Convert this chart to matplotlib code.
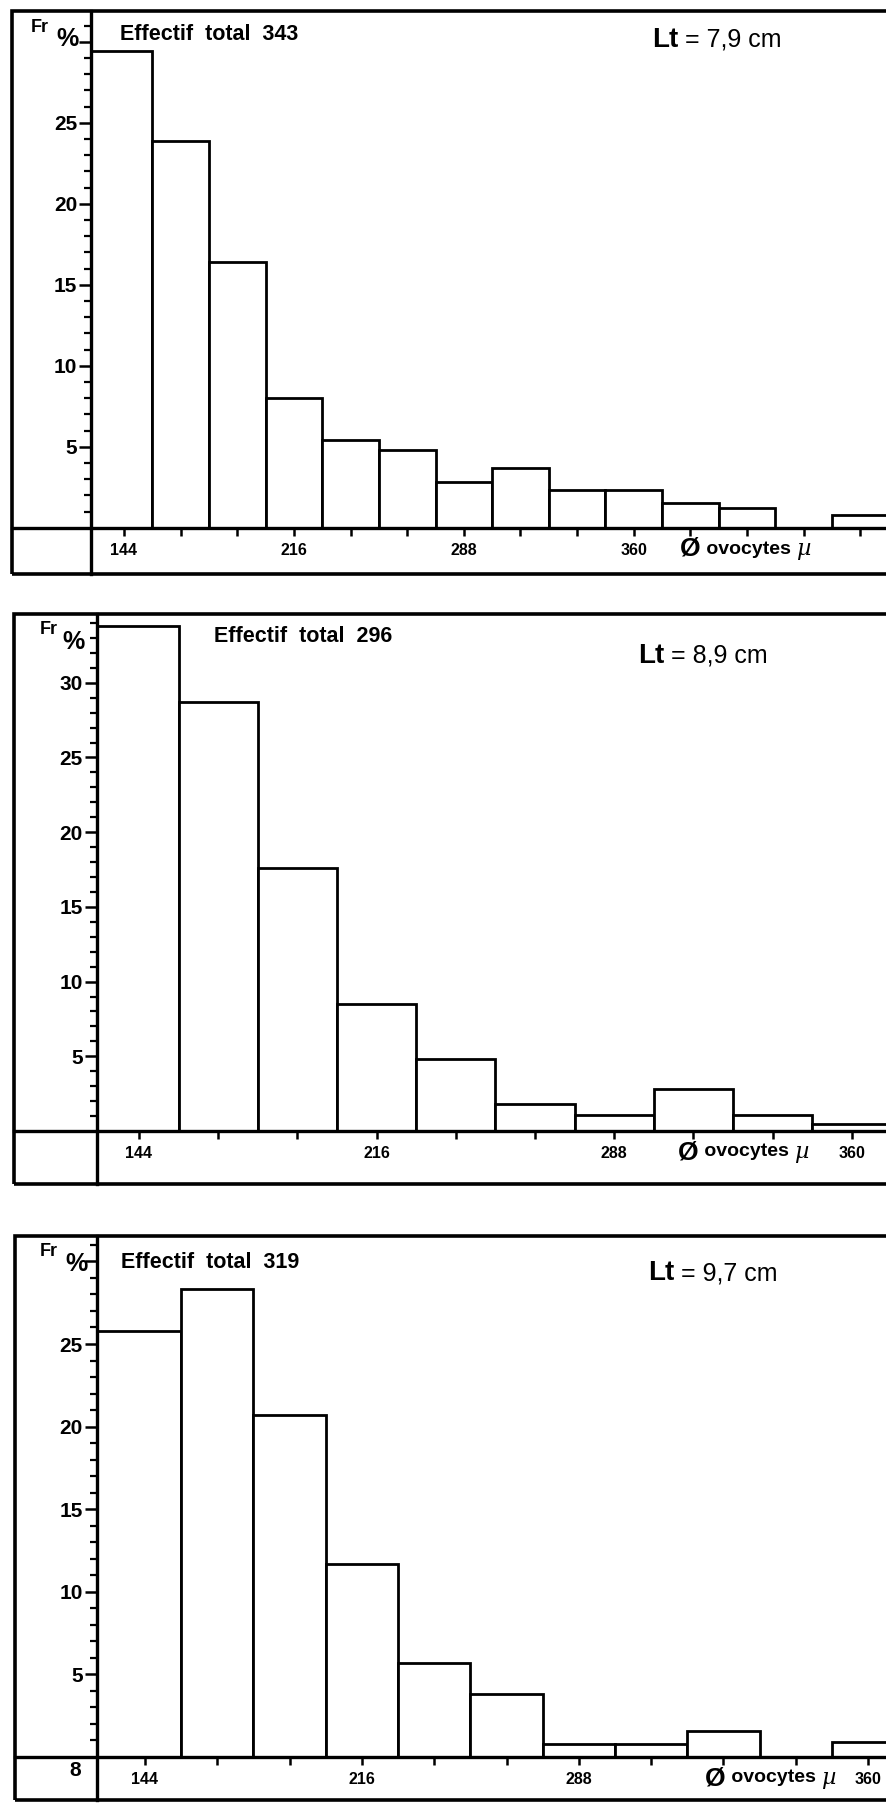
import matplotlib
matplotlib.use("Agg")
import matplotlib.pyplot as plt
from matplotlib.patches import Rectangle
from matplotlib.ticker import FixedLocator

plt.rcParams['font.family'] = ['Liberation Sans', 'DejaVu Sans']
plt.rcParams['font.weight'] = 'bold'

# ---------------- data ----------------
bin_width = 24
centers_1 = [144, 168, 192, 216, 240, 264, 288, 312, 336, 360, 384, 408, 432, 456]
freq_1 = [29.4, 23.9, 16.4, 8.0, 5.4, 4.8, 2.8, 3.7, 2.3, 2.3, 1.5, 1.2, 0.0, 0.8]
xlabels_1 = ['144', '', '', '216', '', '', '288', '', '', '360', '', '', '', '']

centers_2 = [144, 168, 192, 216, 240, 264, 288, 312, 336, 360]
freq_2 = [33.8, 28.7, 17.6, 8.5, 4.8, 1.8, 1.1, 2.8, 1.1, 0.5]
xlabels_2 = ['144', '', '', '216', '', '', '288', '', '', '360']

centers_3 = [144, 168, 192, 216, 240, 264, 288, 312, 336, 360, 384]
freq_3 = [25.8, 28.3, 20.7, 11.7, 5.7, 3.8, 0.8, 0.8, 1.6, 0.0, 0.9]
xlabels_3 = ['144', '', '', '216', '', '', '288', '', '', '', '360']

ymajor_1 = [5, 10, 15, 20, 25, 30]
ylabels_1 = ['5', '10', '15', '20', '25', '']
ymajor_2 = [5, 10, 15, 20, 25, 30]
ylabels_2 = ['5', '10', '15', '20', '25', '30']
ymajor_3 = [5, 10, 15, 20, 25, 30]
ylabels_3 = ['5', '10', '15', '20', '25', '']

totals = [343, 296, 319]
lengths = ['7,9', '8,9', '9,7']

NARROW = ['Liberation Sans Narrow', 'Liberation Sans', 'DejaVu Sans']

# ---------------- layout ----------------
W, H = 886, 1803
fig = plt.figure(figsize=(W / 100, H / 100), dpi=100)
fig.patch.set_facecolor('white')


def ftext(px, py, s, **kw):
    return fig.text(px / W, 1 - py / H, s, **kw)


def panel(frame, xmap, ymap, yaxis_px, centers, freqs, xlabels, ymajor, ylabels):
    left, top, right, bottom = frame
    p144, s = xmap
    p0, u = ymap
    ax = fig.add_axes([left / W, 1 - bottom / H, (right - left) / W, (bottom - top) / H])
    ax.set_xlim(144 + (left - p144) / s, 144 + (right - p144) / s)
    ax.set_ylim((p0 - bottom) / u, (p0 - top) / u)
    yaxis_mu = 144 + (yaxis_px - p144) / s

    lefts = [c - bin_width / 2 for c in centers]
    widths = [bin_width] * len(centers)
    widths[0] = lefts[0] + bin_width - yaxis_mu
    lefts[0] = yaxis_mu
    ax.bar(lefts, freqs, width=widths, align='edge', facecolor='white',
           edgecolor='black', linewidth=2.0, zorder=2)

    for k in ('top', 'right'):
        ax.spines[k].set_visible(False)
    ax.spines['left'].set_position(('data', yaxis_mu))
    ax.spines['bottom'].set_position(('data', 0))
    ax.spines['left'].set_linewidth(2.4)
    ax.spines['bottom'].set_linewidth(2.4)
    ax.spines['left'].set_zorder(3)
    ax.spines['bottom'].set_zorder(3)
    ax.add_patch(Rectangle((0, 0), 1, 1, transform=ax.transAxes, fill=False,
                           edgecolor='black', linewidth=2.6, clip_on=False, zorder=4))

    ax.set_yticks(ymajor, ylabels)
    ymax = ax.get_ylim()[1]
    ax.yaxis.set_minor_locator(FixedLocator([v for v in range(1, int(ymax) + 1) if v % 5]))
    ax.tick_params(axis='y', which='major', direction='out', length=9, width=1.8,
                   labelsize=15, pad=1)
    ax.tick_params(axis='y', which='minor', direction='out', length=5, width=1.6)
    ax.set_xticks(centers, xlabels)
    ax.tick_params(axis='x', which='major', direction='out', length=6, width=1.8,
                   labelsize=11.5, pad=5)
    for t in ax.get_xticklabels() + ax.get_yticklabels():
        t.set_fontweight('bold')
    return ax


def header(fr_xy, pct_xy, eff_xy, total, lt_xy, length):
    ftext(fr_xy[0], fr_xy[1], 'Fr', fontsize=13, fontweight='bold', va='center', ha='left')
    ftext(pct_xy[0], pct_xy[1], '%', fontsize=18, fontweight='bold', va='center', ha='left',
          family=NARROW)
    ftext(eff_xy[0], eff_xy[1], 'Effectif  total  %d' % total, fontsize=15.5,
          fontweight='bold', va='center', ha='left')
    t = ftext(lt_xy[0], lt_xy[1], 'Lt', fontsize=20, fontweight='bold', va='center', ha='left',
              family=NARROW)
    fig.axes[-1].annotate(' = %s cm' % length, xy=(1, 0.5), xycoords=t, va='center', ha='left',
                          fontsize=18, fontweight='normal', family=NARROW)


def xname(px, py):
    t = ftext(px, py, 'Ø', fontsize=19, fontweight='bold', va='center', ha='left')
    t2 = fig.axes[-1].annotate(' ovocytes ', xy=(1, 0.5), xycoords=t, va='center', ha='left',
                               fontsize=14, fontweight='bold')
    fig.axes[-1].annotate('µ', xy=(1, 0.5), xycoords=t2, va='center', ha='left',
                          fontsize=16, fontweight='normal', style='italic',
                          family=['DejaVu Serif'])


# panel 1
panel((11.7, 10.5, 900, 574), (124, 2.36), (527.7, 16.2), 91,
      centers_1, freq_1, xlabels_1, ymajor_1, ylabels_1)
header((31, 27), (56, 39), (120, 35), totals[0], (652, 40), lengths[0])
xname(680, 549)

# panel 2
panel((14, 614, 900, 1184), (139, 3.30), (1131, 14.94), 96.5,
      centers_2, freq_2, xlabels_2, ymajor_2, ylabels_2)
header((40, 630), (62, 642), (214, 637), totals[1], (638, 656), lengths[1])
xname(678, 1152)

# panel 3
panel((15, 1236, 900, 1800), (145, 3.0125), (1757, 16.52), 96.7,
      centers_3, freq_3, xlabels_3, ymajor_3, ylabels_3)
header((40, 1252), (65, 1264), (121, 1262), totals[2], (648, 1273), lengths[2])
xname(705, 1778)
ftext(75, 1771, '8', fontsize=15, fontweight='bold', va='center', ha='center')

fig.savefig('out.png', dpi=100, facecolor='white')
